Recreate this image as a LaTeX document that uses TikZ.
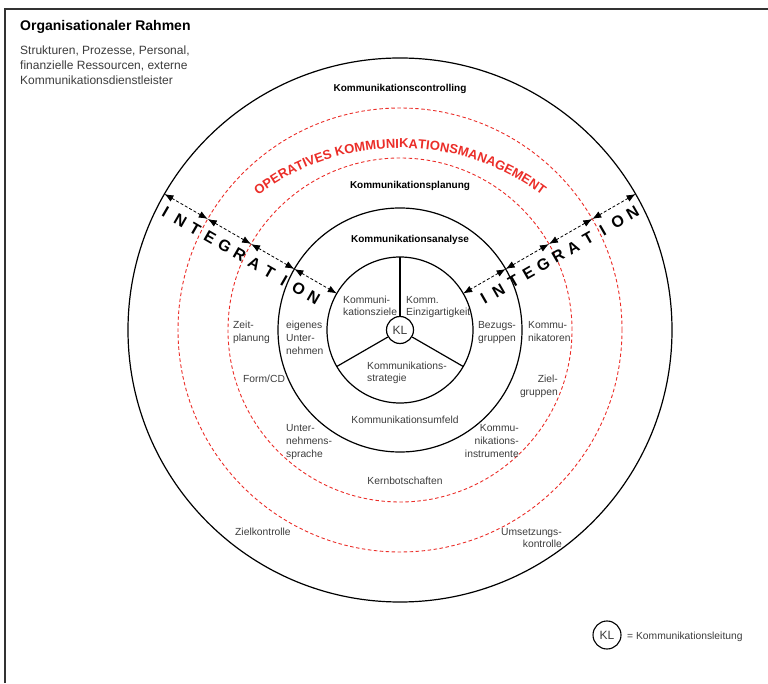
\documentclass[tikz,border=0pt]{standalone}
\usepackage{fontspec}
\setmainfont{Liberation Sans}
\usetikzlibrary{arrows.meta,decorations.text,calc}
\definecolor{kred}{RGB}{235,45,40}
\definecolor{ktxt}{RGB}{60,60,60}
\begin{document}
\begin{tikzpicture}[x=1pt,y=1pt,
  ring/.style={draw=black, line width=1.2pt},
  redring/.style={draw=kred, line width=0.9pt, dash pattern=on 3.5pt off 2.5pt},
  lbl/.style={font=\fontsize{10.3}{12.8}\selectfont, text=ktxt, inner sep=0pt},
  blbl/.style={font=\bfseries\fontsize{10}{12}\selectfont, inner sep=0pt},
  integ/.style={font=\bfseries\fontsize{16}{16}\selectfont, inner sep=0pt},
  darr/.style={densely dashed, line width=0.8pt, {Latex[length=9pt,width=7pt]}-{Latex[length=9pt,width=7pt]}},
]
\useasboundingbox (0,0) rectangle (768,683);
\coordinate (C) at (400,353);
% frame
\draw[line width=1.5pt, draw=black!80] (5,0) -- (5,674) -- (768,674);
% circles
\draw[ring] (C) circle[radius=272];
\draw[redring] (C) circle[radius=222];
\draw[redring] (C) circle[radius=172];
\draw[ring] (C) circle[radius=122];
\draw[ring] (C) circle[radius=73];
\node[circle, draw, line width=1.2pt, minimum size=27pt, inner sep=0pt, font=\fontsize{12}{12}\selectfont, text=ktxt] (KL) at (C) {KL};
\draw[line width=1.2pt] (KL.90) -- ($(C)+(90:73)$);
\draw[line width=1.2pt] (KL.210) -- ($(C)+(210:73)$);
\draw[line width=1.2pt] (KL.330) -- ($(C)+(330:73)$);
% integration arrows
\foreach \ang in {150,30} {
  \coordinate (A1-\ang) at ($(C)+(\ang:272)$);
  \coordinate (A2-\ang) at ($(C)+(\ang:222)$);
  \coordinate (A3-\ang) at ($(C)+(\ang:172)$);
  \coordinate (A4-\ang) at ($(C)+(\ang:122)$);
  \coordinate (A5-\ang) at ($(C)+(\ang:73)$);
  \draw[darr] (A1-\ang) -- (A2-\ang);
  \draw[darr] (A2-\ang) -- (A3-\ang);
  \draw[darr] (A3-\ang) -- (A4-\ang);
  \draw[darr] (A4-\ang) -- (A5-\ang);
}
\foreach \l [count=\i from 0] in {I,N,T,E,G,R,A,T,I,O,N} {
  \node[integ, rotate=-30] (li\i) at ($(C)+(150:{262-17.1*\i})+(240:15)$) {\l};
  \node[integ, rotate=30] (ri\i) at ($(C)+(30:{88+17.2*\i})+(300:15)$) {\l};
}
% red arc text
\coordinate (RC) at (400,298);
\path[decorate, decoration={text along path, text align=center,
  text={|\bfseries\fontsize{13}{13}\selectfont\color{kred}|OPERATIVES KOMMUNIKATIONSMANAGEMENT}}]
  ($(RC)+(130:237)$) arc[start angle=130, end angle=50, radius=237];
% title
\node[anchor=base west, inner sep=0pt, font=\bfseries\fontsize{14}{14}\selectfont] (title) at (20,652) {Organisationaler Rahmen};
\node[anchor=base west, inner sep=0pt, align=left, text=ktxt, font=\fontsize{12}{15}\selectfont] (sub) at (20,598) {Strukturen, Prozesse, Personal,\\finanzielle Ressourcen, externe\\Kommunikationsdienstleister};
% bold ring labels
\node[blbl, anchor=base] (kc) at (400,591) {Kommunikationscontrolling};
\node[blbl, anchor=base] (kp) at (410,494) {Kommunikationsplanung};
\node[blbl, anchor=base] (ka) at (410,440) {Kommunikationsanalyse};
% inner labels (anchor = baseline of last line)
\node[lbl, anchor=base west, align=left] (kz) at (343,367) {Kommuni-\\kationsziele};
\node[lbl, anchor=base west, align=left] (ke) at (406,367) {Komm.\\Einzigartigkeit};
\node[lbl, anchor=base west, align=left] (ks) at (367,301) {Kommunikations-\\strategie};
% analysis ring
\node[lbl, anchor=base west, align=left] (eu) at (286,328.4) {eigenes\\Unter-\\nehmen};
\node[lbl, anchor=base, align=center] (bg) at (497,341.2) {Bezugs-\\gruppen};
\node[lbl, anchor=base] (ku) at (405,259) {Kommunikationsumfeld};
% planning ring
\node[lbl, anchor=base west, align=left] (zp) at (233,341.2) {Zeit-\\planung};
\node[lbl, anchor=base west] (fc) at (243,300) {Form/CD};
\node[lbl, anchor=base west, align=left] (us) at (286,225.4) {Unter-\\nehmens-\\sprache};
\node[lbl, anchor=base west, align=left] (kt) at (528,341.2) {Kommu-\\nikatoren};
\node[lbl, anchor=base east, align=right] (zg) at (558,287.2) {Ziel-\\gruppen};
\node[lbl, anchor=base east, align=right] (ki) at (519,225.4) {Kommu-\\nikations-\\instrumente};
\node[lbl, anchor=base] (kb) at (405,198) {Kernbotschaften};
% controlling ring
\node[lbl, anchor=base west] (zk) at (235,148) {Zielkontrolle};
\node[lbl, anchor=base east, align=right] (uk) at (562,135.2) {Umsetzungs-\\kontrolle};
% legend
\node[circle, draw, line width=1.1pt, minimum size=28pt, inner sep=0pt, font=\fontsize{12}{12}\selectfont, text=ktxt] (KL2) at (607,48) {KL};
\node[lbl, anchor=base west, font=\fontsize{10.3}{12}\selectfont] (leg) at (627,44) {= Kommunikationsleitung};
\end{tikzpicture}
\end{document}
